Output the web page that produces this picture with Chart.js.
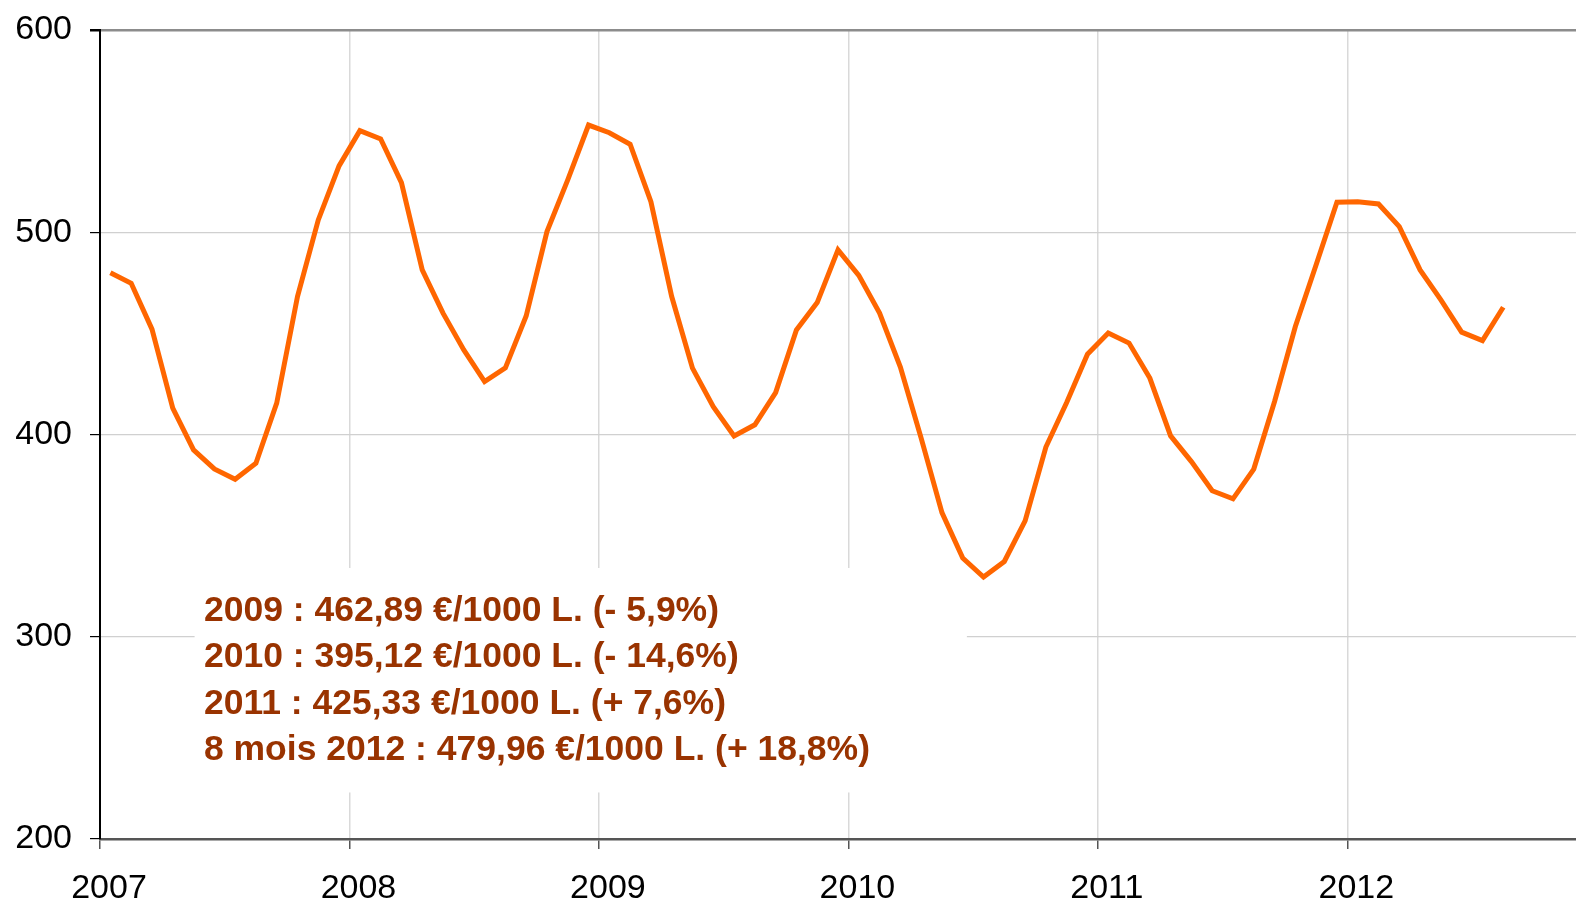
<!DOCTYPE html>
<html lang="fr">
<head>
<meta charset="utf-8">
<title>Prix moyen mensuel</title>
<script src="https://cdn.jsdelivr.net/npm/chart.js@4.4.1/dist/chart.umd.min.js"></script>
<style>
  html, body { margin: 0; padding: 0; background: #fff; overflow: hidden; }
  #chart { display: block; }
</style>
</head>
<body>
<canvas id="chart" width="1576" height="904"></canvas>
<script>
// monthly values, Jan..Dec (2012: Jan..Aug)
const years = [2007, 2008, 2009, 2010, 2011, 2012];
const prix2007 = [480.0, 474.8, 452.1, 413.0, 392.4, 383.0, 377.9, 385.8, 415.5, 468.2, 506.1, 532.8];
const prix2008 = [550.2, 546.1, 524.5, 481.4, 460.0, 441.8, 426.2, 432.9, 458.6, 500.3, 525.9, 553.0];
const prix2009 = [549.2, 543.5, 515.1, 468.2, 432.8, 413.8, 399.3, 404.8, 420.7, 451.7, 465.2, 491.3];
const prix2010 = [478.7, 460.0, 433.3, 398.2, 361.4, 338.9, 329.5, 337.2, 357.3, 393.8, 415.8, 439.7];
const prix2011 = [450.2, 445.2, 427.9, 399.3, 386.6, 372.2, 368.2, 382.9, 416.3, 453.4, 483.9, 514.8];
const prix2012 = [515.1, 514.0, 502.8, 481.4, 466.6, 450.6, 446.4, 462.9];
const yTicks = [200, 300, 400, 500, 600];

const notes = [
  "2009 : 462,89 €/1000 L. (- 5,9%)",
  "2010 : 395,12 €/1000 L. (- 14,6%)",
  "2011 : 425,33 €/1000 L. (+ 7,6%)",
  "8 mois 2012 : 479,96 €/1000 L. (+ 18,8%)"
];

const monthly = [prix2007, prix2008, prix2009, prix2010, prix2011, prix2012].flat();
const points = monthly.map((v, i) => ({ x: i + 0.5, y: v }));

const FONT = "'Liberation Sans', Arial, sans-serif";

// keep the plot area exactly where the layout padding puts it
function noPad(s) {
  s.paddingTop = 0; s.paddingBottom = 0; s.paddingLeft = 0; s.paddingRight = 0;
}

// white box with the yearly averages, placed in data units
const noteBox = {
  id: 'noteBox',
  beforeDatasetsDraw(chart) {
    const { ctx, scales: { x, y } } = chart;
    ctx.save();
    ctx.fillStyle = '#fff';
    const x0 = x.getPixelForValue(4.55), x1 = x.getPixelForValue(41.7);
    const y0 = y.getPixelForValue(334), y1 = y.getPixelForValue(223);
    ctx.fillRect(x0, y0, x1 - x0, y1 - y0);
    ctx.fillStyle = '#993300';
    ctx.font = 'bold 35.5px ' + FONT;
    ctx.textAlign = 'left';
    ctx.textBaseline = 'alphabetic';
    notes.forEach((t, i) => {
      ctx.fillText(t, x.getPixelForValue(5.0), y.getPixelForValue(307.9 - i * 23));
    });
    ctx.restore();
  }
};

new Chart(document.getElementById('chart'), {
  type: 'line',
  data: {
    datasets: [{
      data: points,
      borderColor: '#ff6600',
      borderWidth: 5,
      pointRadius: 0,
      tension: 0,
      fill: false
    }]
  },
  options: {
    responsive: false,
    animation: false,
    events: [],
    layout: { autoPadding: false, padding: { top: 30, right: 0, bottom: 0, left: 0 } },
    plugins: {
      legend: { display: false },
      tooltip: { enabled: false }
    },
    scales: {
      x: {
        type: 'linear',
        min: 0,
        max: 71,
        afterBuildTicks: s => { s.ticks = years.map((yr, i) => ({ value: i * 12 })); },
        afterFit: s => { s.height = 65; noPad(s); },
        ticks: {
          callback: v => years[Math.round(v / 12)],
          font: { family: FONT, size: 34 },
          color: '#000',
          padding: 19,
          labelOffset: 9,
          maxRotation: 0,
          autoSkip: false
        },
        grid: {
          color: '#d9d9d9',
          lineWidth: 1.5,
          tickColor: '#555',
          tickLength: 10
        },
        border: { color: '#555', width: 2.5 }
      },
      y: {
        min: 200,
        max: 600,
        afterBuildTicks: s => { s.ticks = yTicks.map(v => ({ value: v })); },
        afterFit: s => { s.width = 100; noPad(s); },
        ticks: {
          font: { family: FONT, size: 34 },
          color: '#000',
          padding: 18
        },
        grid: {
          color: c => c.tick && c.tick.value === 600 ? '#8c8c8c' : '#d0d0d0',
          lineWidth: c => c.tick && c.tick.value === 600 ? 2.5 : 1.2,
          tickColor: '#000',
          tickLength: 10
        },
        border: { color: '#000', width: 2 }
      }
    }
  },
  plugins: [noteBox]
});
</script>
</body>
</html>
